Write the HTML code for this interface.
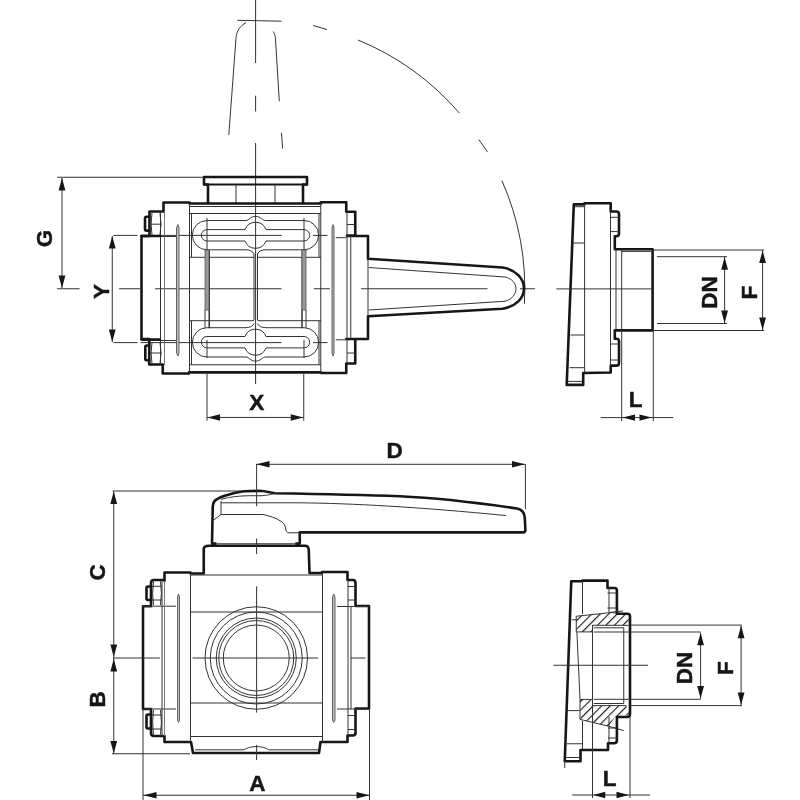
<!DOCTYPE html>
<html><head><meta charset="utf-8"><style>
html,body{margin:0;padding:0;background:#fff;width:800px;height:800px;overflow:hidden}
svg{display:block;filter:grayscale(1)}
.k{fill:none;stroke:#161616;stroke-width:2.6;stroke-linejoin:round;stroke-linecap:round}
.t{fill:none;stroke:#333;stroke-width:1}
.g{fill:none;stroke:#777;stroke-width:1}
.d{fill:#bdbdbd;stroke:#555;stroke-width:0.9}
.a{fill:#161616;stroke:none}
text{font-family:"Liberation Sans",sans-serif;font-weight:bold;font-size:22.5px;fill:#161616;stroke:#161616;stroke-width:0.45}
</style></head><body>
<svg width="800" height="800" viewBox="0 0 800 800">
<defs>
<pattern id="h" patternUnits="userSpaceOnUse" width="6" height="6" patternTransform="rotate(45)">
<line x1="0.6" y1="0" x2="0.6" y2="6" stroke="#111" stroke-width="1.1"/>
</pattern>
</defs>

<!-- ============ TOP VIEW ============ -->
<g id="tv">
<!-- handle ghost -->
<path class="t" d="M237.2,20.3 L281.5,21.2"/>
<path class="t" d="M246.2,22.5 C240,26 236.5,31 236,38 L228.8,135"/>
<path class="t" d="M273.2,31.5 C275,34 275.4,37 275.6,41 L279.3,101.3 M281.5,132.9 L282.6,148.6"/>
<!-- dashed arc -->
<g class="t">
<path d="M313,25.5 L327,29.5"/>
<path d="M358,40 A269,269 0 0 1 459.4,113.1"/>
<path d="M478.75,139.4 L487.5,151.9"/>
<path d="M501.9,180.6 A269,269 0 0 1 524.4,303.8"/>
</g>
<!-- centre lines -->
<path class="t" d="M255.6,0 V63 M255.6,95.7 V111.5 M255.6,143 V384"/>
<path class="t" d="M57,288.75 H79.6 M119,288.75 H140 M155,288.75 H281.5 M314,288.75 H330 M361,288.75 H487.5 M520,288.75 H535"/>
<path class="t" d="M113.4,235.4 H137.5 M140.5,235.4 H281.5 M313,235.4 H327.5"/>
<path class="t" d="M113.4,342.6 H137.5 M140.5,342.6 H281.5 M313,342.6 H327.5"/>

<!-- stem cap -->
<path class="k" d="M208,203 V184.5 H204 V177 H307 V184.5 H303 V203"/>
<path class="k" d="M204,184.5 H307" style="stroke-width:2"/>
<path class="t" d="M236,184.5 V203 M275,184.5 V203"/>

<!-- body outline -->
<path class="k" d="M189.5,203.5 H321 M189,372.4 H321"/>
<path class="k" d="M189.5,202.5 H163.5 V211.5 H149.5 V236 H141.5 V339 H149.25 V364.5 H162.75 V373.5 H189"/>
<path class="k" d="M149.5,216.8 H146.5 Q145,216.8 145,218.5 V229 Q145,230.6 146.5,230.6 H149.5"/>
<path class="k" d="M149.25,345.5 H146.7 Q145.3,345.5 145.3,347 V358.7 Q145.3,360.3 146.7,360.3 H149.25"/>
<path class="k" d="M320.75,202.3 H346.25 V211.75 H355.25 V235.5 H347 M347,236 H368 V258.75 L502.5,267.5 C516,269.5 524,279 524,288.5 C524,298 516,306.5 502.5,308.75 L368,316.25 V339 H347 M346.25,339 H355.25 V363.5 H346.25 V373 H321"/>
<!-- handle inner -->
<path class="t" d="M368.75,267.5 L505,277 C512,278.5 516,283.5 516,288.75 C516,294 512,299.5 505,301.25 L368.75,310"/>

<!-- left flange details -->
<path class="t" d="M160.5,211.5 V236 M150,224.2 H161.5 M160.5,341 V364.5 M150,353 H161.5 M152,213 Q150.2,224 152,235 M160,213 Q162,224 160,235 M152,342 Q150.2,353 152,364 M160,342 Q162,353 160,364"/>
<path class="t" d="M160.5,236 V341"/>
<path class="g" d="M164.5,211.5 V365"/>
<path class="t" d="M189.5,203 V373"/>
<path class="t" d="M141.5,236.5 H176 M141.5,340.5 H176"/>
<path class="k" d="M141.5,236 H160 M141.5,339.5 H160"/>
<path class="d" d="M176.5,353 V228 L178,224.5 L179,228 V353 M176.5,353 L178,356 L179,353"/>

<!-- right flange details -->
<path class="t" d="M320.75,202.3 V373.5 M347,211.75 V363.5 M350.75,236 V339 M347,224.5 H355.25 M347,353 H355.25 M368,258.75 V316.25"/>
<path class="t" d="M335.75,237.7 H346 M335.75,339.8 H346"/>
<path class="d" d="M332,353 V228 L333,224.5 L334,228 V353 L333,356 Z"/>

<!-- inner body lines -->
<path class="t" d="M189.5,206.5 H321 M189.5,213.5 H321 M191.5,213.5 V257 M319,213.5 V257"/>
<path class="t" d="M189.5,364.75 H321 M191.5,364.75 V321 M319,364.75 V321"/>
<path class="t" d="M189.5,257.3 H254 M257.5,257.3 H321 M189.5,320.7 H254 M257.5,320.7 H321"/>

<!-- top racetrack -->
<path class="t" d="M207,220.5 H246 C249,220.5 250,216.4 255.5,216.4 C261,216.4 262,220.5 266,220.5 H304 A14.6,14.6 0 0 1 304,249.8 H266 C262,249.8 258.5,251 257.5,254 V320 M207,220.5 A14.6,14.6 0 0 0 207,249.8 H246 C249,249.8 253,251 254,254 V320"/>
<path class="t" d="M207,229.6 H245 A11.2,11.2 0 0 1 266,229.6 H304 A5.7,5.7 0 0 1 304,241 H266 A11.2,11.2 0 0 1 245,241 H207 A5.7,5.7 0 0 1 207,229.6 Z"/>
<!-- bottom racetrack (mirror) -->
<g transform="translate(0,577.5) scale(1,-1)">
<path class="t" d="M207,220.5 H246 C249,220.5 250,216.4 255.5,216.4 C261,216.4 262,220.5 266,220.5 H304 A14.6,14.6 0 0 1 304,249.8 H266 C262,249.8 258.5,251 257.5,254 M207,220.5 A14.6,14.6 0 0 0 207,249.8 H246 C249,249.8 253,251 254,254"/>
<path class="t" d="M207,229.6 H245 A11.2,11.2 0 0 1 266,229.6 H304 A5.7,5.7 0 0 1 304,241 H266 A11.2,11.2 0 0 1 245,241 H207 A5.7,5.7 0 0 1 207,229.6 Z"/>
</g>
<!-- inner rectangles -->
<path class="t" d="M209.5,250.4 V328.4 M302,250.4 V328.4"/>
<!-- rods -->
<rect x="205" y="250" width="4" height="60" fill="#999" stroke="#555" stroke-width="0.8"/>
<rect x="302" y="250" width="4" height="60" fill="#999" stroke="#555" stroke-width="0.8"/>
<path class="t" d="M205,310 V328 M209,310 V328 M302,310 V328 M306,310 V328 M207,218 V250 M304,218 V250 M207,340 V358 M304,340 V358"/>
<!-- G dim -->
<path class="t" d="M57,177.25 H204 M62,178 V288"/>
<path class="a" d="M62,178 L58.6,190.5 H65.4 Z M62,288 L58.6,275.5 H65.4 Z"/>
<text transform="translate(51.5,238.6) rotate(-90)" text-anchor="middle">G</text>
<!-- Y dim -->
<path class="t" d="M112.25,236 V342"/>
<path class="a" d="M112.25,236 L108.85,248.5 H115.65 Z M112.25,342 L108.85,329.5 H115.65 Z"/>
<text transform="translate(109,291.5) rotate(-90)" text-anchor="middle">Y</text>
<!-- X dim -->
<path class="t" d="M207,374 V420.75 M303.75,374 V420.75 M207,417.45 H303.75"/>
<path class="a" d="M207.5,417.45 L220,414.2 V420.7 Z M303.25,417.45 L290.75,414.2 V420.7 Z"/>
<text x="256.8" y="410.3" text-anchor="middle">X</text>
</g>

<!-- ============ SIDE VIEW (top right) ============ -->
<g id="sv">
<path class="k" d="M573.8,204.35 H584.5 V203.25 H610.7 V211.5 H616.5 Q619,211.5 619,214 V233.5 Q619,236.25 616.5,236.25 H614.8 V249.3 H652.6 V330.4 H614.8 V338.8 H616.5 Q619,338.8 619,341.5 V363 Q619,365.6 616.5,365.6 H610.7 V372.5 L583.2,373 V384.9 H566.7 Z"/>
<path class="t" d="M584.6,204 V372.5 M575,206.7 H584.6 M572.5,243 H584.6 M570.5,335 H584.6 M569.5,367.7 H584.6 M568,381.4 H582"/>
<path class="t" d="M610.5,211 V365.6 M616,249.3 V330.4 M610.5,217.3 H619 M610.5,231.6 H619 M610.5,344 H619 M610.5,360 H619"/>
<path class="t" d="M621.7,249.3 V421.2 M621.7,251.4 H651 M653.3,330.4 V421.2"/>
<path class="t" d="M556.4,288.9 H652"/>
<!-- dims -->
<path class="t" d="M652.6,250 H764 M653.3,330.5 H764 M657,256.7 H727 M657,323.5 H727 M762.6,250 V330.5 M724.6,256.7 V323.5"/>
<path class="a" d="M762.6,250.5 L759.2,263 H766 Z M762.6,330 L759.2,317.5 H766 Z M724.6,257.2 L721.2,269.7 H728 Z M724.6,323 L721.2,310.5 H728 Z"/>
<text transform="translate(717.1,292.4) rotate(-90)" text-anchor="middle">DN</text>
<text transform="translate(756.6,292.5) rotate(-90)" text-anchor="middle">F</text>
<path class="t" d="M600.7,417.6 H673.25"/>
<path class="a" d="M622.6,417.6 L635,414.4 V420.8 Z M651.6,417.6 L639.5,414.4 V420.8 Z"/>
<text x="635.6" y="406.6" text-anchor="middle">L</text>
</g>

<!-- ============ FRONT VIEW ============ -->
<g id="fv">
<!-- handle -->
<path class="k" d="M212,543 L212.75,507 C213,502 214.5,500.5 216.5,499.5 C220,497 225,495.5 230,494.25 C236,492.5 241,491.5 245,491.25 L260,490.8 C266,491 270,493 275,493.2 C340,494.3 375,495.3 400,496.2 C440,498 480,503 517,508.5 C522,509.5 524.5,513 524.8,518 L525.4,530 Q525.4,532.4 523,532.4 H299.75 V543"/>
<path class="t" d="M221,499.5 C232,496 245,495.5 260,495.75 C268,495.5 272,494 276,493.2"/>
<path class="t" d="M212,521.25 L221,514.5 V501 M221,502.8 H300 C350,503.3 420,507 506,515.6"/>
<path class="t" d="M221,514.5 H263 C270,516 276,518 281,521.25 C284,523 285,525 285.5,528 C286,531 286.5,532.8 289,532.8 H299.75"/>
<path class="t" d="M216.5,543.75 H295.25 M216.5,546 H295.25"/>
<rect x="211.25" y="542.25" width="5.25" height="3.75" fill="#161616"/>
<rect x="295.25" y="542.25" width="5.25" height="3.75" fill="#161616"/>
<!-- body outline -->
<path class="k" d="M164.5,581 V572.5 H190.5 V573.5 H203.75 V549 C203.75,547 205.5,545.7 209,545.7 H305 C307.5,545.7 308.5,547 308.75,550 L309.5,573 H322 V572 H347.5 V580 H353 Q355.5,580 355.5,583 V606 H369 V708.5 H355.5 V733 Q355.5,735.5 353,735.5 H347.5 V742 H320.5 L319,753 H193 L191,742 H164.5 V736 H154 Q151,736 151,733 V709 H143 V606.2 H151 V583 Q151,580 154,580 H164.5"/>
<path class="k" d="M151,586.5 H148 Q146.5,586.5 146.5,588 V598.5 Q146.5,600 148,600 H151 M151,714.5 H148 Q146.5,714.5 146.5,716 V727 Q146.5,728.5 148,728.5 H151"/>
<path class="t" d="M190.5,575 H322.5 M190.5,575 V742 M322.5,573 V742 M190.5,612 H322.5 M190.5,703 H322.5 M190.5,736.5 H322.5"/>
<path class="t" d="M195,749.8 H244 C250,745.5 263,745.5 268.5,749.8 H318"/>
<path class="t" d="M162,581 V736 M143,606.2 H176 M143,709 H176 M152,586.3 H162 M152,600 H162 M152,715 H162 M152,729 H162 M153.5,581.5 Q151.8,593 153.5,605 M160.5,581.5 Q162.3,593 160.5,605 M153.5,710 Q151.8,722 153.5,734.5 M160.5,710 Q162.3,722 160.5,734.5"/>
<path class="g" d="M164.5,581 V736"/>
<path class="d" d="M177.5,720 V597 L178.5,594 L179.5,597 V720 L178.5,722.5 Z"/>
<path class="t" d="M348,580 V735.5 M351,606 V709 M337,606.5 H369 M337,709 H369 M348,586.5 H355.5 M348,600 H355.5 M348,715.5 H355.5 M348,729.5 H355.5"/>
<path class="d" d="M332.5,720 V597 L333.75,594 L335,597 V720 L333.75,722.5 Z"/>
<!-- port -->
<g class="t">
<circle cx="256.25" cy="658" r="51.25"/>
<circle cx="256.25" cy="658" r="46"/>
<circle cx="256.25" cy="658" r="40"/>
<circle cx="256.25" cy="658" r="37.5"/>
<circle cx="256.25" cy="658" r="33"/>
</g>
<!-- centre lines -->
<path class="t" d="M256.6,464 V506.25 M256.6,538.5 V554 M256.6,586.3 V712.6 M256.6,745 V760 M113,658 H160 M192.5,658 H318 M350.6,658 H365.6"/>
<!-- D dim -->
<path class="t" d="M256,464.3 H525.4 M525.4,464.3 V509"/>
<path class="a" d="M256.5,464.3 L269.5,461 V467.6 Z M525,464.3 L512,461 V467.6 Z"/>
<text x="394.6" y="458" text-anchor="middle">D</text>
<!-- C/B dims -->
<path class="t" d="M112.5,491 H240 M113.75,491.5 V753.75 M112,753.75 H190"/>
<path class="a" d="M113.75,491.5 L110.35,504 H117.15 Z M113.75,657 L110.35,644.5 H117.15 Z M113.75,659 L110.35,671.5 H117.15 Z M113.75,753.5 L110.35,741 H117.15 Z"/>
<text transform="translate(105,572.3) rotate(-90)" text-anchor="middle">C</text>
<text transform="translate(105,699.3) rotate(-90)" text-anchor="middle">B</text>
<!-- A dim -->
<path class="t" d="M143,708.5 V800 M369.5,708.5 V800 M143,795.25 H369.5"/>
<path class="a" d="M143.5,795.25 L156.5,792 V798.5 Z M369.5,795.25 L356.5,792 V798.5 Z"/>
<text x="257.3" y="790.5" text-anchor="middle">A</text>
</g>

<!-- ============ SECTION VIEW (bottom right) ============ -->
<g id="sc">
<path fill="url(#h)" stroke="none" d="M576.25,616.25 L611.25,612.5 L628.75,614.4 V625 H592.5 V631.9 H576.25 Z"/>
<path fill="url(#h)" stroke="none" d="M580,699.4 H592.5 V705.6 H626.25 L628.75,711.25 V715 L615,716.9 L608.75,726.25 L580.6,719.4 Z"/>
<path class="t" d="M576.25,616.25 L611.25,612.5 L628.75,614.4 M576.25,616.25 V631.9 H592.5 V625.3 H628.75"/>
<path class="t" d="M580,699.4 H592.5 V705.6 H626.25 M580,699.4 V719.4 L608.75,726.25 L623.75,730.6"/>
<path class="k" d="M571.25,581.25 H582.5 V580.6 H607.5 V588 H614.5 Q616.9,588 616.9,590.5 V613.75 H627.5 Q630,613.75 630,616.5 V714 Q630,717 627,717 H616.9 V740.5 Q616.9,743.25 614,743.25 H608 V750 H580.5 V761.25 H564.75 Z"/>
<path class="t" d="M582.5,581 V614 M582.5,721 V750 M576.9,632 L580,699.4"/>
<path class="t" d="M592.5,625 V798 M593.75,627.8 H623.75 V703.5 H593.75 M630,717 V798"/>
<path class="t" d="M593.75,632 H700.6 M593.75,699.3 H700.6 M630,625.1 H741.8 M630,705.6 H741.8"/>
<path class="t" d="M572,619.75 H576.25 M568,710.6 H579.4 M567,743.75 H582 M566,757.5 H580.5 M564.75,761.25 V768"/>
<path class="t" d="M609,588 V612.5 M609,717 V743 M607.5,593 H616.9 M607.5,608 H616.9 M608,728 H616.9 M608,738 H616.9 M610,612.4 L623,611"/>
<path class="t" d="M553.5,665.25 H648"/>
<!-- dims -->
<path class="t" d="M741.1,625.5 V705.2 M700.6,632.5 V698.8"/>
<path class="a" d="M741.1,625.8 L737.7,638.3 H744.5 Z M741.1,705 L737.7,692.5 H744.5 Z M700.6,632.7 L697.2,645.2 H704 Z M700.6,698.6 L697.2,686.1 H704 Z"/>
<text transform="translate(692.3,668.1) rotate(-90)" text-anchor="middle">DN</text>
<text transform="translate(732.9,668.1) rotate(-90)" text-anchor="middle">F</text>
<path class="t" d="M572.25,795 H650.25"/>
<path class="a" d="M593.25,795 L605.25,791.8 V798.2 Z M628.8,795 L616.5,791.8 V798.2 Z"/>
<text x="609.6" y="785.5" text-anchor="middle">L</text>
</g>
</svg>
</body></html>
